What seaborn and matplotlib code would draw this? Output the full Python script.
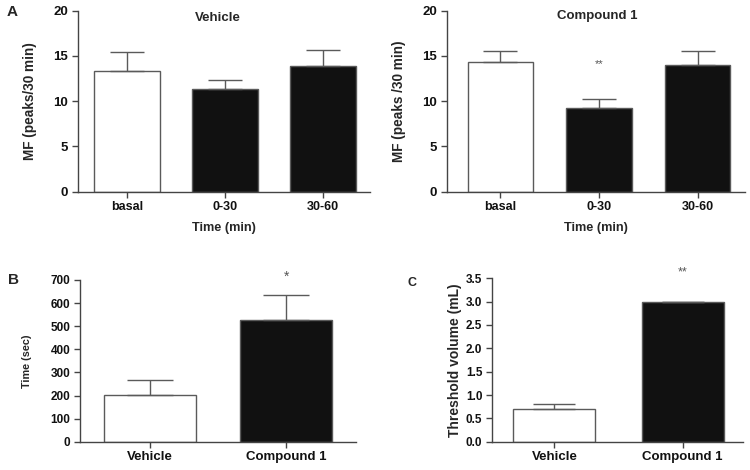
import matplotlib
matplotlib.use("Agg")
import matplotlib.pyplot as plt
import matplotlib.ticker as mticker
import seaborn as sns
import pandas as pd

sns.set_theme(style="white")
plt.rcParams['font.family'] = ['Liberation Sans', 'DejaVu Sans']
plt.rcParams['font.weight'] = 'bold'

# ---- data ----
time_cats = ["basal", "0-30", "30-60"]
vehicle_mf = [13.3, 11.3, 13.9]
vehicle_mf_err = [2.1, 1.0, 1.8]
compound_mf = [14.3, 9.3, 14.0]
compound_mf_err = [1.2, 0.9, 1.5]

groups = ["Vehicle", "Compound 1"]
time_sec = [204, 528]
time_sec_err = [63, 106]
threshold_ml = [0.71, 2.99]
threshold_ml_err = [0.09, 0.0]

W, H = 750, 470
fig = plt.figure(figsize=(7.5, 4.7), dpi=100)

def add_ax(l, r, t, b):
    return fig.add_axes([l / W, 1 - b / H, (r - l) / W, (b - t) / H])

EDGE = "#5a5a5a"
SPINE = "#444444"
BLACK = "#111111"

def style(ax, ylim, yticks, xlim, ytick_size, xtick_size):
    ax.set_ylim(*ylim)
    ax.set_yticks(yticks)
    ax.set_xlim(*xlim)
    for s in ["top", "right"]:
        ax.spines[s].set_visible(False)
    for s in ["left", "bottom"]:
        ax.spines[s].set_color(SPINE)
        ax.spines[s].set_linewidth(1.0)
    ax.tick_params(axis="both", direction="out", length=4, width=1, color=SPINE,
                   bottom=True, left=True, pad=3)
    ax.tick_params(axis="y", labelsize=ytick_size, labelcolor="#111")
    ax.tick_params(axis="x", labelsize=xtick_size, labelcolor="#111")

def bars(ax, cats, vals, errs, width, capsize, palette):
    df = pd.DataFrame({"cat": cats, "val": vals})
    sns.barplot(data=df, x="cat", y="val", hue="cat", palette=palette, dodge=False,
                edgecolor=EDGE, linewidth=1.0, width=width, legend=False, ax=ax,
                errorbar=None)
    lows = [0] * len(errs)
    ax.errorbar(range(len(cats)), vals, yerr=[lows, errs], fmt="none",
                ecolor=EDGE, elinewidth=1.0, capsize=capsize, capthick=1.0, zorder=1)
    ax.set_xlabel("")
    ax.set_ylabel("")

pal3 = ["white", BLACK, BLACK]
pal2 = ["white", BLACK]

# Panel A left
axA1 = add_ax(78, 370, 10.7, 191.7)
bars(axA1, time_cats, vehicle_mf, vehicle_mf_err, 0.67, 12, pal3)
style(axA1, (0, 20), [0, 5, 10, 15, 20], (-0.5, 2.48), 9.5, 9)
axA1.set_ylabel("MF (peaks/30 min)", fontsize=9.8, fontweight="bold", labelpad=12)
axA1.set_xlabel("Time (min)", fontsize=9.2, fontweight="bold", labelpad=6)
axA1.text(0.93, 19.2, "Vehicle", ha="center", va="center", fontsize=9.5, fontweight="bold")

# Panel A right
axA2 = add_ax(446.7, 745, 10.7, 191.7)
bars(axA2, time_cats, compound_mf, compound_mf_err, 0.66, 12, pal3)
style(axA2, (0, 20), [0, 5, 10, 15, 20], (-0.544, 2.48), 9.5, 9)
axA2.set_ylabel("MF (peaks /30 min)", fontsize=9.8, fontweight="bold", labelpad=12)
axA2.set_xlabel("Time (min)", fontsize=9.2, fontweight="bold", labelpad=6)
axA2.text(0.98, 19.4, "Compound 1", ha="center", va="center", fontsize=9.5, fontweight="bold")
axA2.text(1, 14.1, "**", ha="center", va="center", fontsize=8, color="#555", fontweight="normal")

# Panel B
axB = add_ax(80, 356, 280, 441.7)
bars(axB, groups, time_sec, time_sec_err, 0.675, 16.5, pal2)
style(axB, (0, 700), list(range(0, 701, 100)), (-0.51, 1.51), 8.5, 9.5)
axB.set_ylabel("Time (sec)", fontsize=7.8, fontweight="bold", labelpad=13)
axB.text(1, 716, "*", ha="center", va="center", fontsize=10, color="#555", fontweight="normal",
         clip_on=False)

# Panel C
axC = add_ax(492, 743, 278.3, 441.7)
bars(axC, groups, threshold_ml, threshold_ml_err, 0.64, 15, pal2)
style(axC, (0, 3.5), [0.0, 0.5, 1.0, 1.5, 2.0, 2.5, 3.0, 3.5], (-0.486, 1.47), 8.5, 9.5)
axC.yaxis.set_major_formatter(mticker.FormatStrFormatter("%.1f"))
axC.set_ylabel("Threshold volume (mL)", fontsize=10, fontweight="bold", labelpad=3)
axC.text(1, 3.62, "**", ha="center", va="center", fontsize=9, color="#555", fontweight="normal",
         clip_on=False)

# panel letters
fig.text(7 / W, 1 - 12 / H, "A", fontsize=11, fontweight="bold", ha="left", va="center")
fig.text(8 / W, 1 - 280 / H, "B", fontsize=11, fontweight="bold", ha="left", va="center")
fig.text(407 / W, 1 - 283 / H, "C", fontsize=9, fontweight="bold", ha="left", va="center")

fig.savefig("out.png", dpi=100, facecolor="white")
